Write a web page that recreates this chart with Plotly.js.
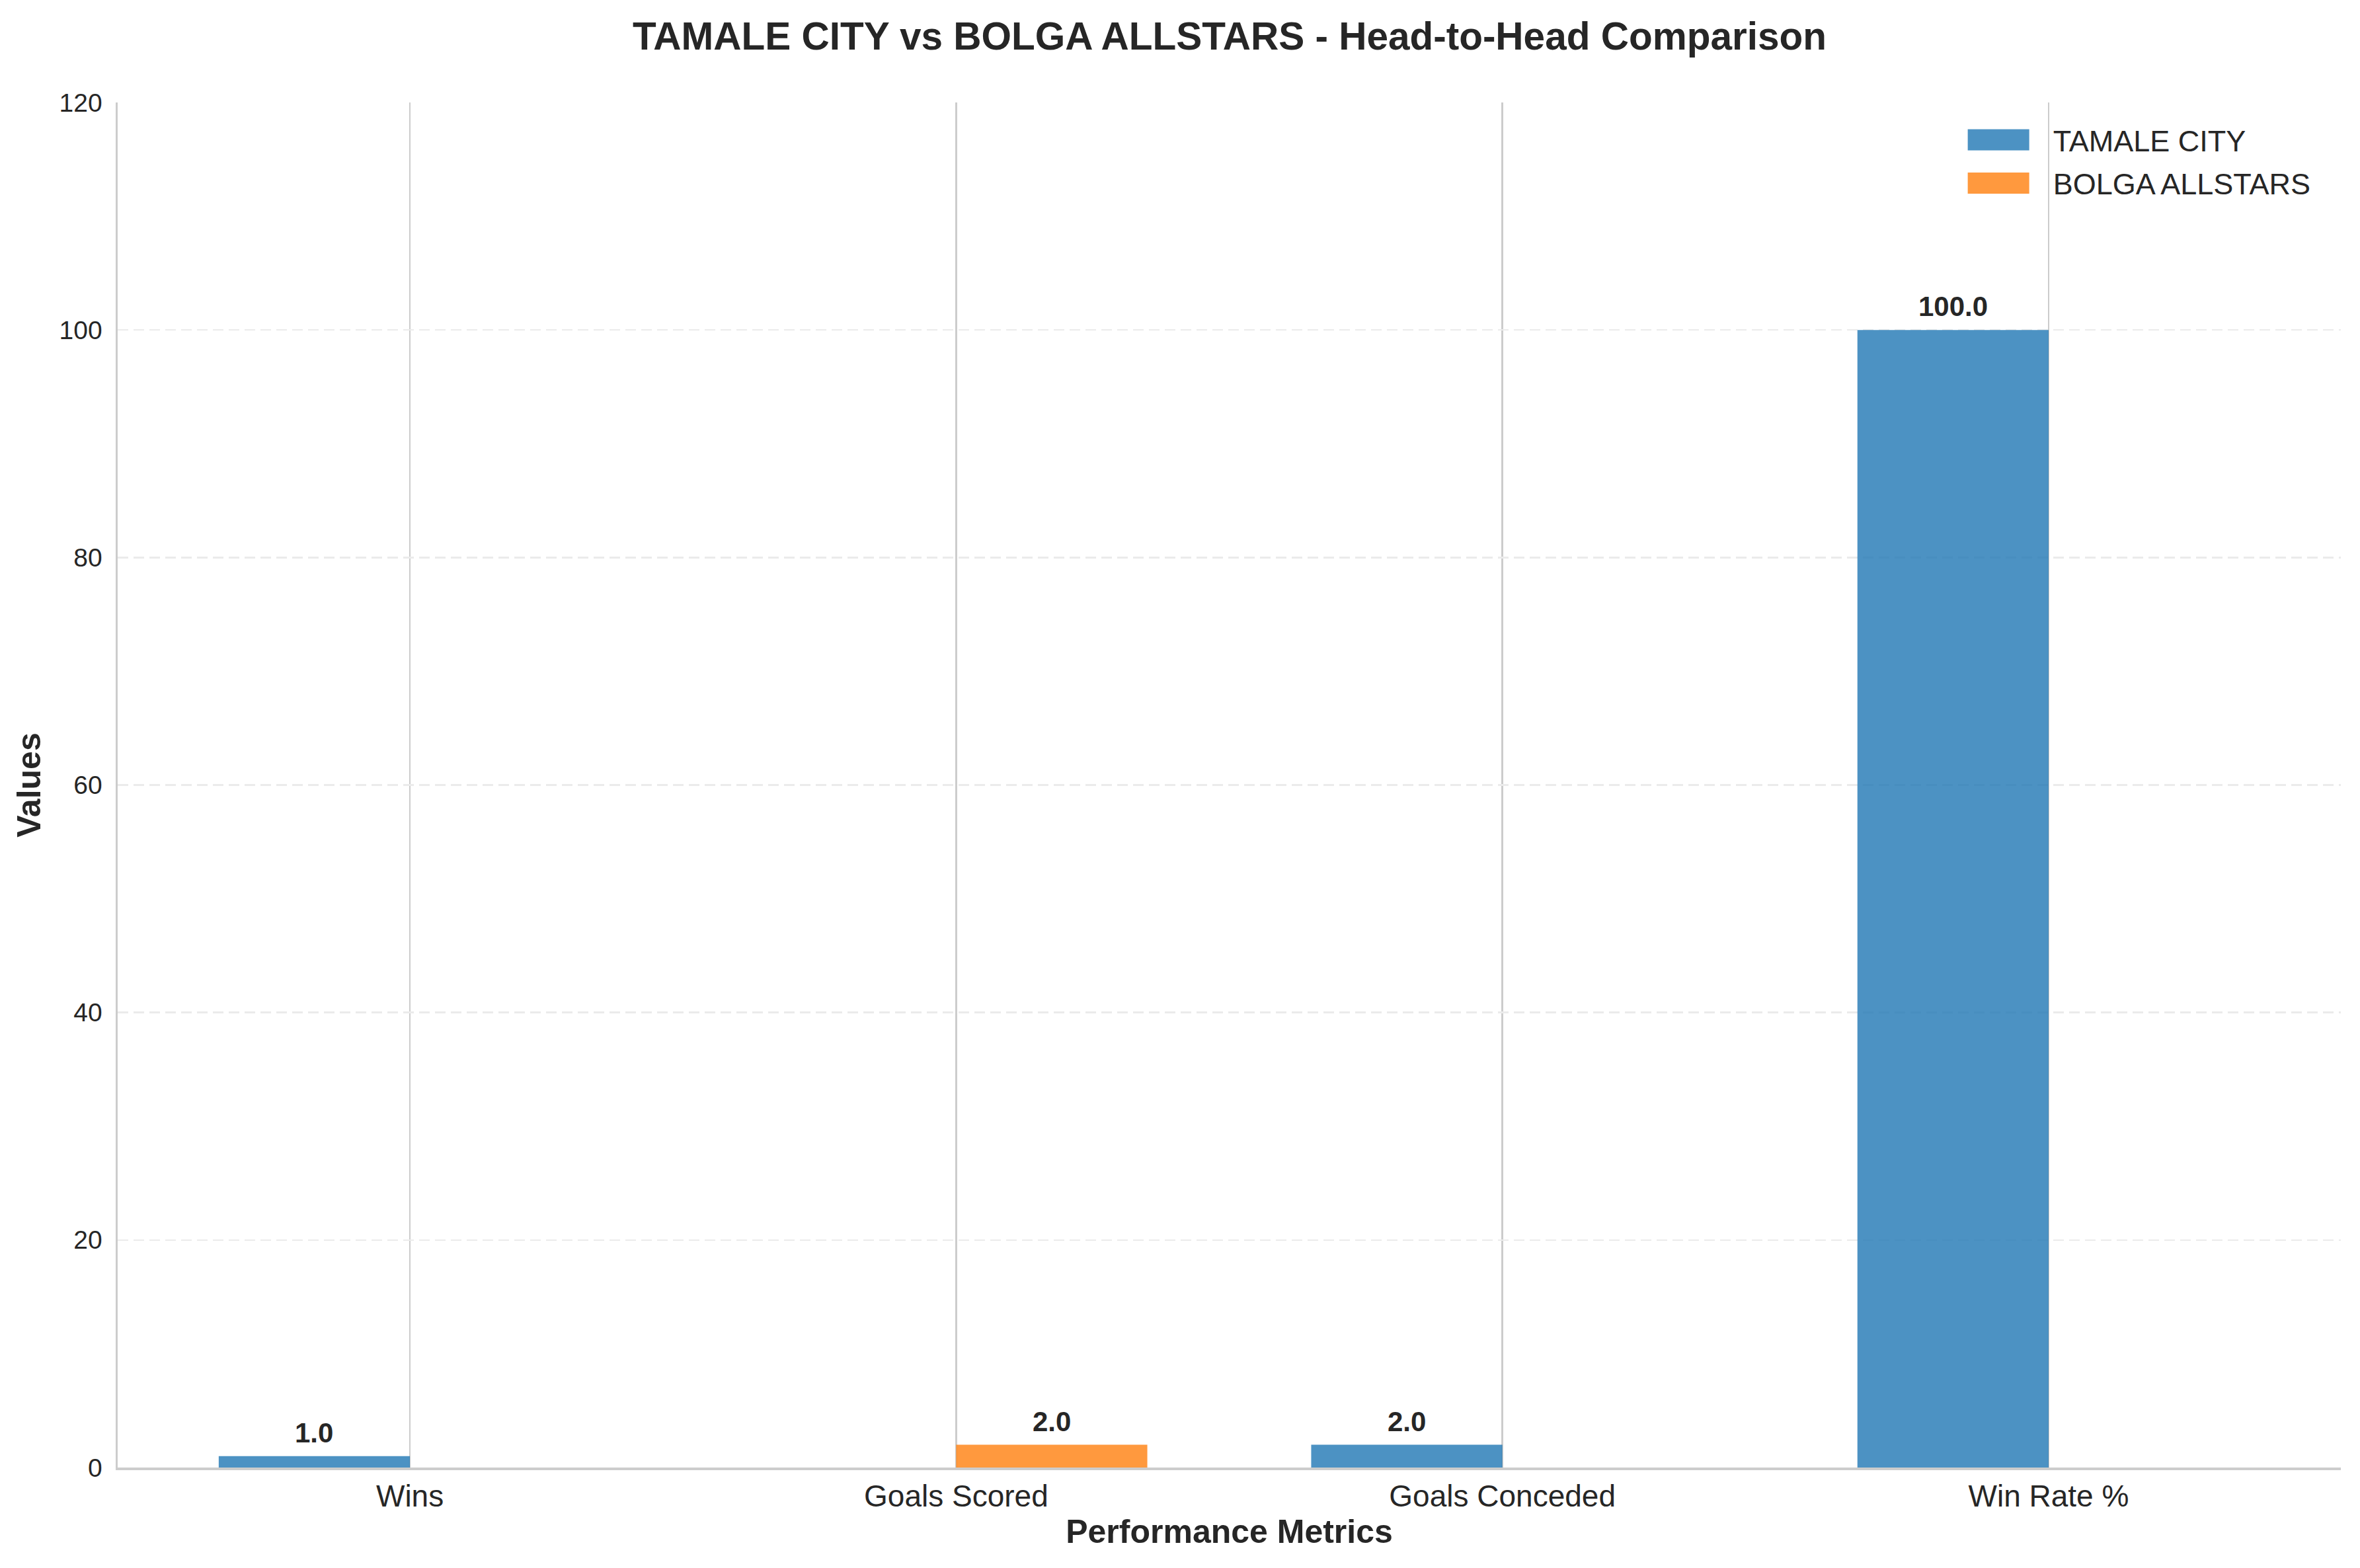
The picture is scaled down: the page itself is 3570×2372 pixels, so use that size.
<!DOCTYPE html>
<html>
<head>
<meta charset="utf-8">
<script src="https://cdn.plot.ly/plotly-3.0.1.min.js"></script>
<style>
  body { margin: 0; background: #fff; }
  #chart { width: 3570px; height: 2372px; }
</style>
</head>
<body>
<div id="chart"></div>
<script>
// data
var metrics = ['Wins', 'Goals Scored', 'Goals Conceded', 'Win Rate %'];
var tamaleValues = [1, 0, 2, 100];
var bolgaValues = [0, 2, 0, 0];
var teamNames = ['TAMALE CITY', 'BOLGA ALLSTARS'];
var yTicks = [0, 20, 40, 60, 80, 100, 120];

const TEXT = '#262626';
const FONT = '"Liberation Sans", Arial, sans-serif';
const BAR_W = 0.35;

var xIdx = metrics.map((m, i) => i);

// tab blue / tab orange at alpha 0.8
var series = [
    { name: teamNames[0], values: tamaleValues, color: 'rgba(31,119,180,0.8)', shift: -BAR_W / 2 },
    { name: teamNames[1], values: bolgaValues, color: 'rgba(255,127,14,0.8)', shift: BAR_W / 2 }
];

var traces = series.map(s => ({
    type: 'bar',
    name: s.name,
    legendgroup: s.name,
    x: xIdx,
    y: s.values,
    width: BAR_W,
    offset: s.shift - BAR_W / 2,
    marker: { color: s.color, line: { width: 0 } },
    hoverinfo: 'skip'
}));

// value labels above the non-zero bars
var labels = [];
series.forEach(s => {
    s.values.forEach((v, i) => {
        if (v > 0) {
            labels.push({
                x: i + s.shift,
                y: v,
                xref: 'x',
                yref: 'y',
                text: v.toFixed(1),
                showarrow: false,
                yanchor: 'bottom',
                yshift: 10,
                font: { family: FONT, size: 42, color: TEXT, weight: 'bold' }
            });
        }
    });
});

var layout = {
    width: 3570,
    height: 2372,
    paper_bgcolor: '#ffffff',
    plot_bgcolor: '#ffffff',
    margin: { l: 178, r: 29, t: 155, b: 152 },
    font: { family: FONT, color: TEXT },
    barmode: 'overlay',
    title: {
        text: '<b>TAMALE CITY vs BOLGA ALLSTARS - Head-to-Head Comparison</b>',
        font: { family: FONT, size: 58.5, color: TEXT },
        x: 0.521,
        xanchor: 'center',
        y: 0.977,
        yanchor: 'middle'
    },
    xaxis: {
        range: [-0.535, 3.535],
        tickvals: xIdx,
        ticktext: metrics,
        tickfont: { family: FONT, size: 46, color: TEXT },
        ticks: '',
        ticklabelstandoff: 0,
        showgrid: true,
        gridcolor: '#cccccc',
        gridwidth: 2.3,
        zeroline: false,
        showline: true,
        linecolor: '#cccccc',
        linewidth: 3.5,
        title: {
            text: '<b>Performance Metrics</b>',
            font: { family: FONT, size: 50, color: TEXT },
            standoff: 10
        }
    },
    yaxis: {
        range: [0, 120],
        tickvals: yTicks,
        tickfont: { family: FONT, size: 39, color: TEXT },
        ticks: '',
        ticklabelstandoff: 12,
        showgrid: true,
        gridcolor: '#ebebeb',
        gridwidth: 2.5,
        griddash: '16px,8px',
        zeroline: false,
        showline: true,
        linecolor: '#cccccc',
        linewidth: 3.5,
        title: {
            text: '<b>Values</b>',
            font: { family: FONT, size: 50, color: TEXT },
            standoff: 13
        }
    },
    legend: {
        x: 0.988,
        xanchor: 'right',
        y: 0.990,
        yanchor: 'top',
        bgcolor: 'rgba(0,0,0,0)',
        borderwidth: 0,
        font: { family: FONT, size: 45, color: TEXT },
        itemwidth: 140,
        traceorder: 'grouped',
        tracegroupgap: 4
    },
    annotations: labels
};

Plotly.newPlot('chart', traces, layout, { displayModeBar: false, staticPlot: true }).then(function () {
    // matplotlib-style wide legend patches, with a gap before the text
    document.querySelectorAll('.legendpoints path').forEach(function (p) {
        p.setAttribute('d', 'M-54,-16H39V16H-54Z');
    });
});
</script>
</body>
</html>
